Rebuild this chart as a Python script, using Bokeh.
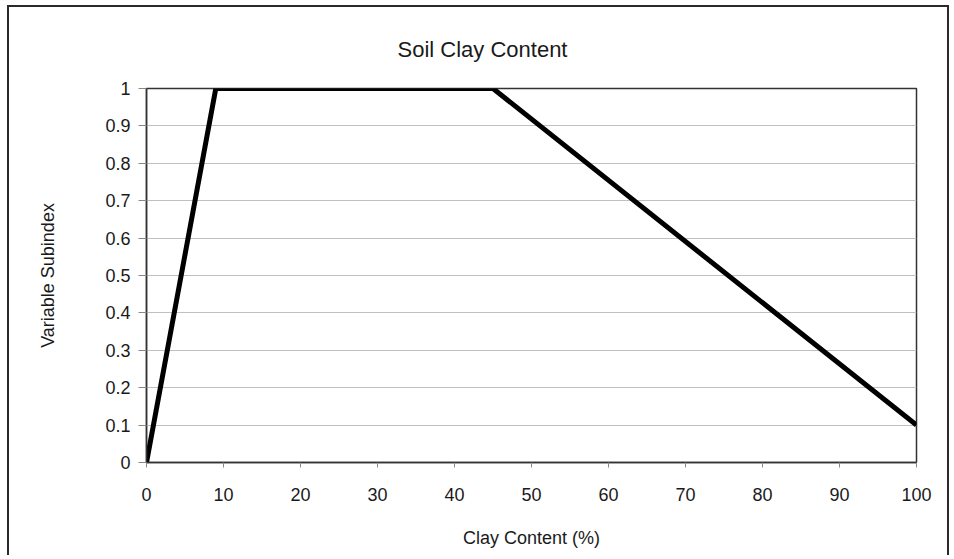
from bokeh.plotting import figure
from bokeh.models import Range1d, FixedTicker
from bokeh.embed import file_html
from bokeh.resources import INLINE

# Data
clay_content = [0, 9, 45, 100]
variable_subindex = [0, 1, 1, 0.1]
x_ticks = [0, 10, 20, 30, 40, 50, 60, 70, 80, 90, 100]
y_ticks = [0, 0.1, 0.2, 0.3, 0.4, 0.5, 0.6, 0.7, 0.8, 0.9, 1]
y_tick_labels = ["0", "0.1", "0.2", "0.3", "0.4", "0.5", "0.6", "0.7", "0.8", "0.9", "1"]
chart_title = "Soil Clay Content"

FONT = "Liberation Sans"
TEXT = "#1a1a1a"

p = figure(
    width=942, height=550,
    output_backend="svg", toolbar_location=None,
    x_range=Range1d(0, 100), y_range=Range1d(0, 1),
    min_border_left=137, min_border_right=35,
    min_border_top=81, min_border_bottom=95,
    title=chart_title,
)
p.margin = (5, 0, 0, 7)
p.styles = {
    "border-top": "2px solid #2a2a2a",
    "border-left": "2px solid #2a2a2a",
    "border-right": "2px solid #2a2a2a",
}

p.title.text_font = FONT
p.title.text_font_size = "22px"
p.title.text_font_style = "normal"
p.title.text_color = TEXT
p.title.align = "left"
p.title.offset = 251
p.title.standoff = 54

p.outline_line_color = "#333333"
p.outline_line_width = 1.5
p.background_fill_color = "white"
p.border_fill_color = "white"

p.xgrid.visible = False
p.ygrid.grid_line_color = "#c0c0c0"
p.ygrid.grid_line_width = 1

p.xaxis.ticker = FixedTicker(ticks=x_ticks)
p.yaxis.ticker = FixedTicker(ticks=y_ticks)
p.yaxis.major_label_overrides = {t: s for t, s in zip(y_ticks, y_tick_labels)}

for ax in (p.xaxis[0], p.yaxis[0]):
    ax.axis_line_color = "#333333"
    ax.axis_line_width = 1.5
    ax.major_tick_line_color = "#888888"
    ax.major_tick_in = 0
    ax.minor_tick_line_color = None
    ax.major_label_text_font = FONT
    ax.major_label_text_font_size = "18px"
    ax.major_label_text_color = TEXT
    ax.axis_label_text_font = FONT
    ax.axis_label_text_font_size = "18px"
    ax.axis_label_text_font_style = "normal"
    ax.axis_label_text_color = TEXT

p.xaxis.major_tick_out = 5
p.xaxis.major_label_standoff = 20
p.xaxis.axis_label = "Clay Content (%)"
p.xaxis.axis_label_standoff = 24

p.yaxis.major_tick_out = 8
p.yaxis.major_label_standoff = 8
p.yaxis.axis_label = "Variable Subindex"
p.yaxis.axis_label_standoff = 44

p.line(clay_content, variable_subindex, line_color="black", line_width=5,
       line_join="miter")

open("out.html", "w").write(file_html(p, INLINE))
